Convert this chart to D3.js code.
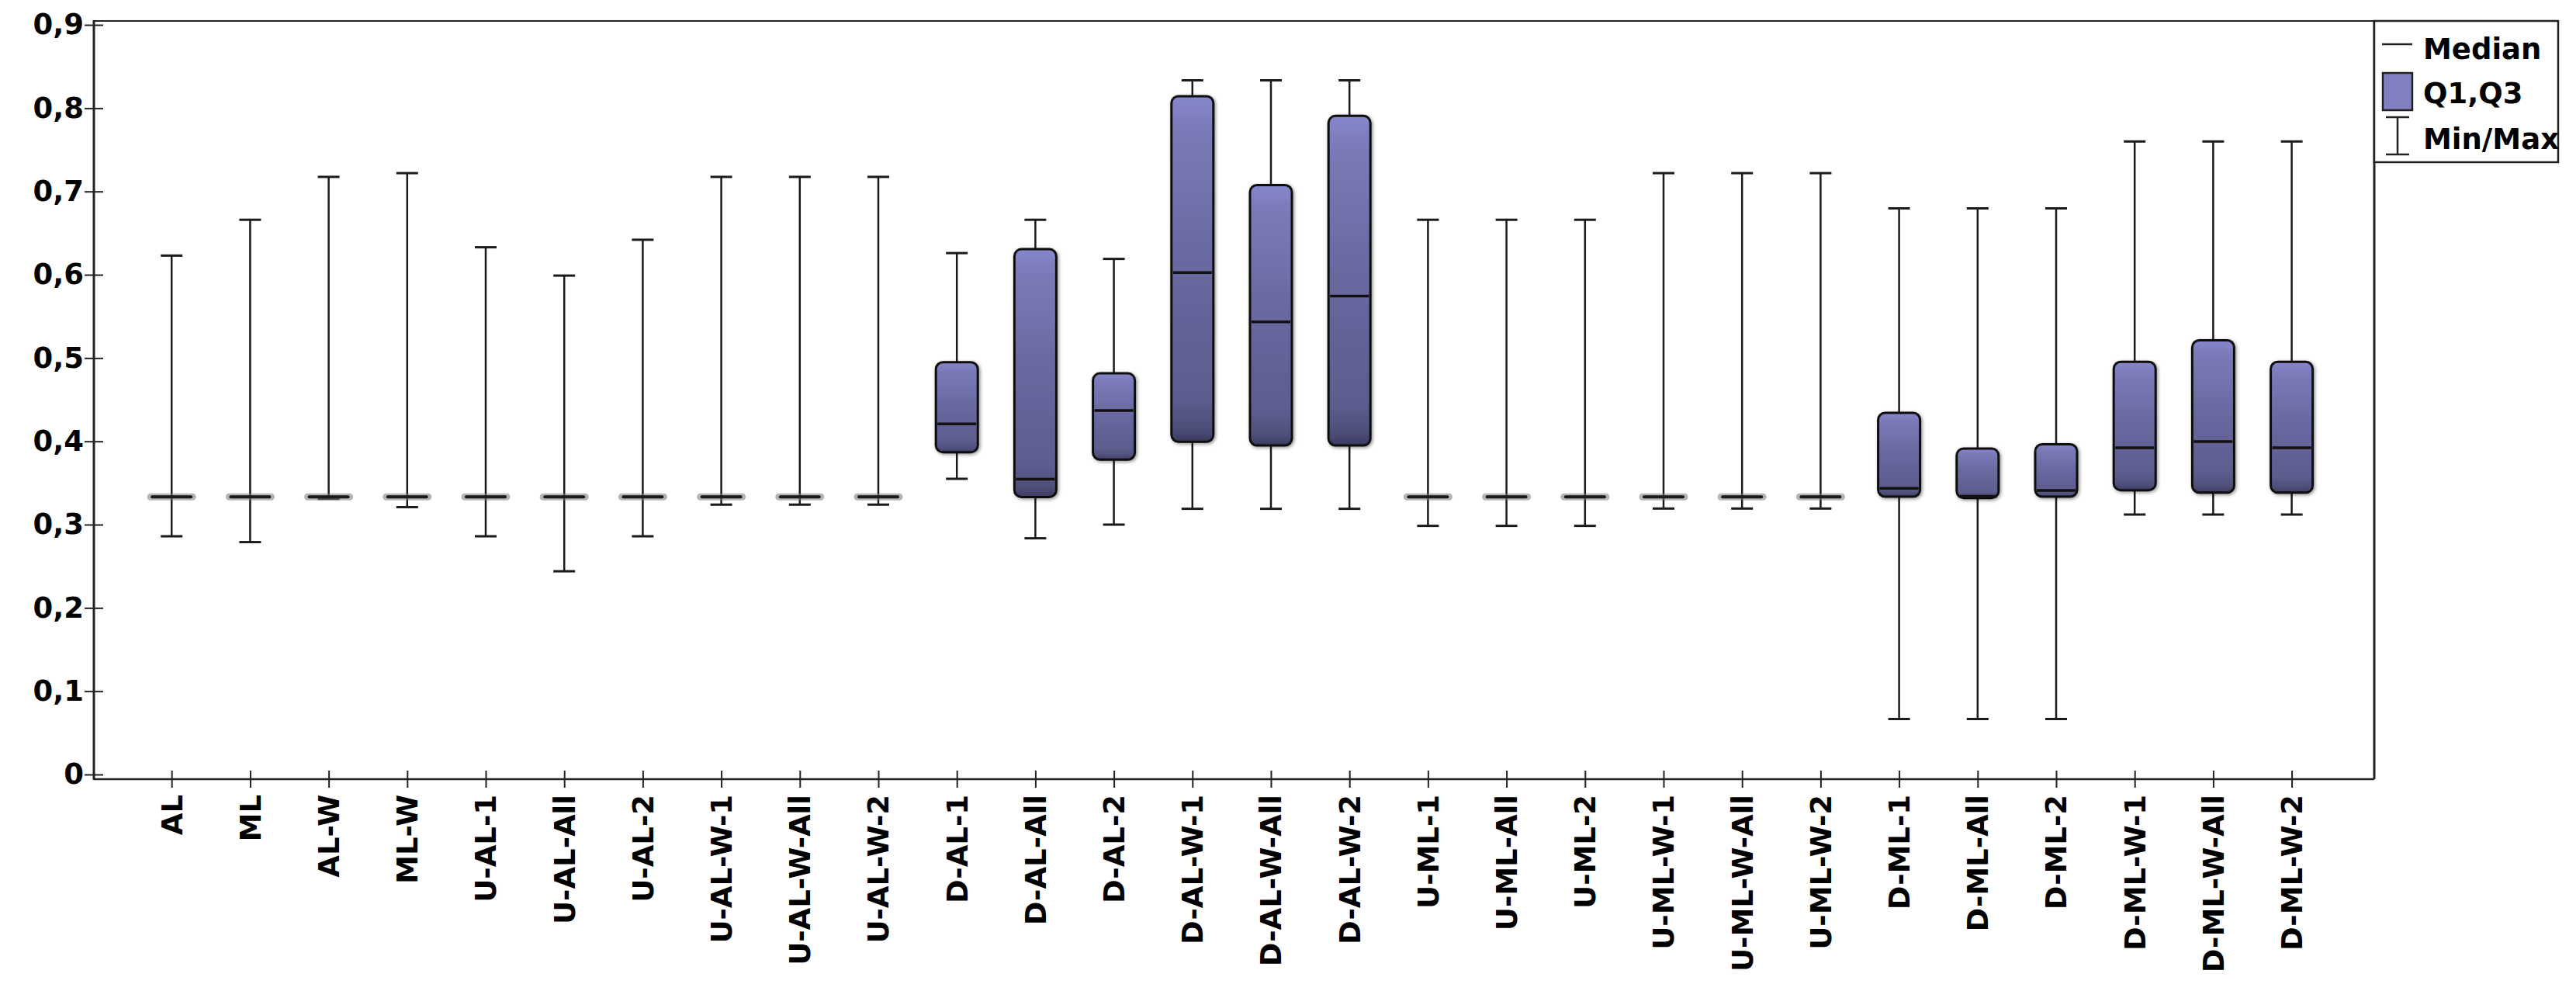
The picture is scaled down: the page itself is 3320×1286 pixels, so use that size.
<!DOCTYPE html>
<html>
<head>
<meta charset="utf-8">
<script src="https://cdn.jsdelivr.net/npm/d3@7"></script>
<style>
  html, body { margin: 0; padding: 0; background: #fff; }
  svg { display: block; }
  text { font-family: "DejaVu Sans", Verdana, sans-serif; font-weight: bold; fill: #000; }
</style>
</head>
<body>
<svg id="chart" width="3320" height="1286"></svg>
<script>
const categories = ["AL","ML","AL-W","ML-W","U-AL-1","U-AL-All","U-AL-2","U-AL-W-1","U-AL-W-All","U-AL-W-2",
  "D-AL-1","D-AL-All","D-AL-2","D-AL-W-1","D-AL-W-All","D-AL-W-2",
  "U-ML-1","U-ML-All","U-ML-2","U-ML-W-1","U-ML-W-All","U-ML-W-2",
  "D-ML-1","D-ML-All","D-ML-2","D-ML-W-1","D-ML-W-All","D-ML-W-2"];
const mins    = [0.286,0.279,0.331,0.321,0.286,0.244,0.286,0.324,0.324,0.324,
  0.355,0.2836,0.300,0.319,0.319,0.319,
  0.2985,0.2985,0.2985,0.3193,0.3193,0.3193,
  0.0666,0.0666,0.0666,0.3121,0.3121,0.3121];
const q1s     = [0.3333,0.3333,0.3333,0.3333,0.3333,0.3333,0.3333,0.3333,0.3333,0.3333,
  0.387,0.3332,0.378,0.3995,0.395,0.395,
  0.3333,0.3333,0.3333,0.3333,0.3333,0.3333,
  0.3335,0.332,0.3335,0.3413,0.3384,0.3384];
const medians = [0.3333,0.3333,0.3333,0.3333,0.3333,0.3333,0.3333,0.3333,0.3333,0.3333,
  0.421,0.3546,0.437,0.6025,0.5435,0.5743,
  0.3333,0.3333,0.3333,0.3333,0.3333,0.3333,
  0.3435,0.334,0.341,0.3922,0.3996,0.3922];
const q3s     = [0.3333,0.3333,0.3333,0.3333,0.3333,0.3333,0.3333,0.3333,0.3333,0.3333,
  0.495,0.6307,0.4816,0.8144,0.7077,0.7907,
  0.3333,0.3333,0.3333,0.3333,0.3333,0.3333,
  0.4342,0.3914,0.3965,0.4954,0.5213,0.4954];
const maxs    = [0.623,0.666,0.7175,0.722,0.633,0.599,0.642,0.7175,0.7175,0.7175,
  0.626,0.666,0.619,0.8334,0.8334,0.8334,
  0.666,0.666,0.666,0.722,0.722,0.722,
  0.6797,0.6797,0.6797,0.760,0.760,0.760];
const yTicks = [0,0.1,0.2,0.3,0.4,0.5,0.6,0.7,0.8,0.9];
const legendLabels = ["Median","Q1,Q3","Min/Max"];

const data = categories.map((c,i) => ({cat:c, min:mins[i], q1:q1s[i], med:medians[i], q3:q3s[i], max:maxs[i]}));

const svg = d3.select("#chart");
const plot = {left:121, right:3060, top:27, bottom:1004};
const y = d3.scaleLinear().domain([-0.0056, 0.9047]).range([plot.bottom, plot.top]);
const x = d3.scalePoint().domain(categories).range([221.2, 2953.6]);

const defs = svg.append("defs");
const grad = defs.append("linearGradient").attr("id","boxGrad").attr("x1",0).attr("y1",0).attr("x2",0).attr("y2",1);
[["0%","#8686cc"],["10%","#7a7ab8"],["45%","#6a6aa2"],["88%","#5c5c8e"],["96%","#4e4e7a"],["100%","#3a3a5e"]]
  .forEach(([o,c]) => grad.append("stop").attr("offset",o).attr("stop-color",c));
const f = defs.append("filter").attr("id","shadow").attr("x","-30%").attr("y","-30%").attr("width","160%").attr("height","160%");
f.append("feDropShadow").attr("dx",1.5).attr("dy",1.5).attr("stdDeviation",2).attr("flood-color","#000").attr("flood-opacity",0.45);

// frame
const frame = svg.append("g").attr("stroke","#222").attr("fill","none");
frame.append("line").attr("x1",plot.left).attr("x2",3297).attr("y1",plot.top).attr("y2",plot.top).attr("stroke-width",2);
frame.append("line").attr("x1",plot.right).attr("x2",plot.right).attr("y1",plot.top).attr("y2",plot.bottom).attr("stroke-width",3);
frame.append("line").attr("x1",plot.left).attr("x2",plot.right).attr("y1",plot.bottom).attr("y2",plot.bottom).attr("stroke-width",2.5);
frame.append("line").attr("x1",plot.left).attr("x2",plot.left).attr("y1",plot.top-1).attr("y2",plot.bottom+1).attr("stroke-width",3);

// y axis
const yAxis = d3.axisLeft(y).tickValues(yTicks).tickSize(12).tickPadding(1)
  .tickFormat(d => d === 0 ? "0" : d3.format(".1f")(d).replace(".", ","));
const gy = svg.append("g").attr("transform",`translate(${plot.left},0)`).call(yAxis);
gy.select(".domain").remove();
gy.selectAll(".tick line").attr("stroke","#222").attr("stroke-width",2).attr("x2",12).attr("x1",-12);
gy.selectAll(".tick text").style("font-size","37px").attr("font-family",null).attr("fill","#000");

// x axis
const xAxis = d3.axisBottom(x).tickSize(11).tickFormat("");
const gx = svg.append("g").attr("transform",`translate(0,${plot.bottom})`).call(xAxis);
gx.select(".domain").remove();
gx.selectAll(".tick line").attr("stroke","#222").attr("stroke-width",2).attr("y1",-11).attr("y2",11);
svg.append("g").selectAll("text").data(categories).join("text")
  .attr("transform", d => `translate(${x(d)},${plot.bottom + 20}) rotate(-90)`)
  .attr("text-anchor","end").attr("dy","0.36em")
  .style("font-size","37px").text(d => d);

// boxes
const boxW = 54, capW = 28;
const g = svg.append("g");
const items = g.selectAll("g.box").data(data).join("g").attr("class","box");
items.append("line")
  .attr("x1", d => x(d.cat)).attr("x2", d => x(d.cat))
  .attr("y1", d => y(d.min)).attr("y2", d => y(d.max))
  .attr("stroke","#1a1a1a").attr("stroke-width",2.5);
items.append("line")
  .attr("x1", d => x(d.cat)-capW/2).attr("x2", d => x(d.cat)+capW/2)
  .attr("y1", d => y(d.max)).attr("y2", d => y(d.max))
  .attr("stroke","#1a1a1a").attr("stroke-width",3);
items.append("line")
  .attr("x1", d => x(d.cat)-capW/2).attr("x2", d => x(d.cat)+capW/2)
  .attr("y1", d => y(d.min)).attr("y2", d => y(d.min))
  .attr("stroke","#1a1a1a").attr("stroke-width",3);
const boxed = items.filter(d => d.q3 - d.q1 > 0.001);
boxed.append("rect")
  .attr("x", d => x(d.cat)-boxW/2).attr("width", boxW)
  .attr("y", d => y(d.q3)).attr("height", d => y(d.q1)-y(d.q3))
  .attr("rx",9).attr("ry",9)
  .attr("fill","url(#boxGrad)").attr("stroke","#111").attr("stroke-width",3)
  .attr("filter","url(#shadow)");
boxed.append("line")
  .attr("x1", d => x(d.cat)-boxW/2+2).attr("x2", d => x(d.cat)+boxW/2-2)
  .attr("y1", d => y(d.med)).attr("y2", d => y(d.med))
  .attr("stroke","#111").attr("stroke-width",3.5);
const flat = items.filter(d => d.q3 - d.q1 <= 0.001);
flat.append("line")
  .attr("x1", d => x(d.cat)-boxW/2).attr("x2", d => x(d.cat)+boxW/2)
  .attr("y1", d => y(d.med)).attr("y2", d => y(d.med))
  .attr("stroke","#777").attr("stroke-opacity",0.55).attr("stroke-width",9).attr("stroke-linecap","round");
flat.append("line")
  .attr("x1", d => x(d.cat)-boxW/2+2).attr("x2", d => x(d.cat)+boxW/2-2)
  .attr("y1", d => y(d.med)).attr("y2", d => y(d.med))
  .attr("stroke","#1a1a1a").attr("stroke-width",4).attr("stroke-linecap","round");

// legend
const lg = svg.append("g");
lg.append("rect").attr("x",plot.right).attr("y",plot.top).attr("width",3297-plot.right).attr("height",209-plot.top)
  .attr("fill","#fff").attr("stroke","#222").attr("stroke-width",2.5);
lg.append("line").attr("x1",3070).attr("x2",3109).attr("y1",57).attr("y2",57).attr("stroke","#222").attr("stroke-width",2.5);
lg.append("rect").attr("x",3071).attr("y",94).attr("width",38).attr("height",48)
  .attr("fill","#8080c0").attr("stroke","#222").attr("stroke-width",2.5);
lg.append("line").attr("x1",3090).attr("x2",3090).attr("y1",151).attr("y2",199).attr("stroke","#222").attr("stroke-width",2.5);
lg.append("line").attr("x1",3075).attr("x2",3105).attr("y1",151).attr("y2",151).attr("stroke","#222").attr("stroke-width",2.5);
lg.append("line").attr("x1",3075).attr("x2",3105).attr("y1",199).attr("y2",199).attr("stroke","#222").attr("stroke-width",2.5);
const ly = [76, 133, 192];
lg.selectAll("text.leg").data(legendLabels).join("text").attr("class","leg")
  .attr("x",3123).attr("y",(d,i) => ly[i]).style("font-size","37px").text(d => d);
</script>
</body>
</html>
